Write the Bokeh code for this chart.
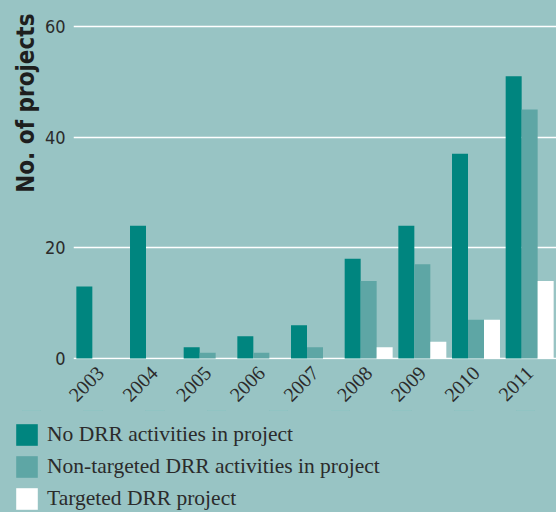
import math
from bokeh.plotting import figure
from bokeh.layouts import column
from bokeh.models import ColumnDataSource, FactorRange, Range1d, Legend, LegendItem, Title
from bokeh.transform import dodge
from bokeh.embed import file_html
from bokeh.resources import INLINE

years = ["2003", "2004", "2005", "2006", "2007", "2008", "2009", "2010", "2011"]
no_drr = [13, 24, 2, 4, 6, 18, 24, 37, 51]
non_targeted = [0, 0, 1, 1, 2, 14, 17, 7, 45]
targeted = [0, 0, 0, 0, 0, 2, 3, 7, 14]
series_names = ["No DRR activities in project",
                "Non-targeted DRR activities in project",
                "Targeted DRR project"]
y_ticks = [0, 20, 40, 60]

BG = "#98c4c4"
C_DARK = "#00857f"
C_MID = "#5ea6a5"
C_WHITE = "#ffffff"
SANS_C = "DejaVu Sans Condensed"
SERIF = "Liberation Serif"
fields = ["no_drr", "non_targeted", "targeted"]
colors = [C_DARK, C_MID, C_WHITE]

src = ColumnDataSource(dict(years=years, no_drr=no_drr, non_targeted=non_targeted, targeted=targeted))

p = figure(width=556, height=410, x_range=FactorRange(factors=years, range_padding=0),
           y_range=(-0.2, 64.7), output_backend="svg", toolbar_location=None,
           background_fill_color=BG, border_fill_color=BG, outline_line_color=None,
           min_border_left=73, min_border_right=0, min_border_top=0, min_border_bottom=51)
p.frame_align = False

bw = 0.298
for i, (f, c) in enumerate(zip(fields, colors)):
    p.vbar(x=dodge("years", (i - 1) * bw, range=p.x_range), top=f, width=bw, source=src,
           fill_color=c, line_color=None)

p.xgrid.grid_line_color = None
p.ygrid.grid_line_color = "white"
p.ygrid.grid_line_width = 1.3
p.ygrid.ticker = y_ticks
p.yaxis.ticker = y_ticks

p.yaxis.axis_line_color = None
p.yaxis.major_tick_line_color = None
p.yaxis.minor_tick_line_color = None
p.yaxis.major_tick_out = 0
p.yaxis.major_tick_in = 0
p.yaxis.major_label_standoff = 8
p.yaxis.major_label_text_font = SANS_C
p.yaxis.major_label_text_font_size = "18px"
p.yaxis.major_label_text_color = "#2b2b2b"

p.xaxis.axis_line_color = None
p.xaxis.major_tick_line_color = None
p.xaxis.minor_tick_line_color = None
p.xaxis.major_tick_out = 0
p.xaxis.major_tick_in = 0
p.xaxis.major_label_orientation = math.pi / 4
p.xaxis.major_label_standoff = 10
p.xaxis.major_label_text_font = SERIF
p.xaxis.major_label_text_font_size = "20px"
p.xaxis.major_label_text_color = "#2b2b2b"

ytitle = Title(text="No. of projects", align="right", text_font=SANS_C,
               text_font_size="24px", text_font_style="bold", text_color="#1e1e1e",
               standoff=4, offset=13)
p.add_layout(ytitle, "left")

# legend figure (swatch renderers lie outside its visible range)
q = figure(width=556, height=102, x_range=p.x_range, y_range=Range1d(-10, -9),
           output_backend="svg", toolbar_location=None, x_axis_type=None, y_axis_type=None,
           background_fill_color=BG, border_fill_color=BG, outline_line_color=None,
           min_border_left=0, min_border_right=0, min_border_top=0, min_border_bottom=0)
q.frame_align = False
q.xgrid.grid_line_color = None
q.ygrid.grid_line_color = None
leg_r = []
for f, c in zip(fields, colors):
    leg_r.append(q.vbar(x="years", top=f, width=0.3, source=src, fill_color=c, line_color=None))

legend = Legend(items=[LegendItem(label=n, renderers=[r]) for n, r in zip(series_names, leg_r)],
                location=(13, 0), orientation="vertical",
                glyph_width=27, glyph_height=27, label_standoff=7, spacing=5,
                padding=0, margin=0, border_line_color=None, background_fill_alpha=0,
                label_text_font=SERIF, label_text_font_size="21.5px",
                label_text_color="#2b2b2b", label_height=27)
q.add_layout(legend, "center")

layout = column(p, q, spacing=0)
html = file_html(layout, INLINE)
html = html.replace("<body>", '<body style="background:%s">' % BG)
open("out.html", "w").write(html)
